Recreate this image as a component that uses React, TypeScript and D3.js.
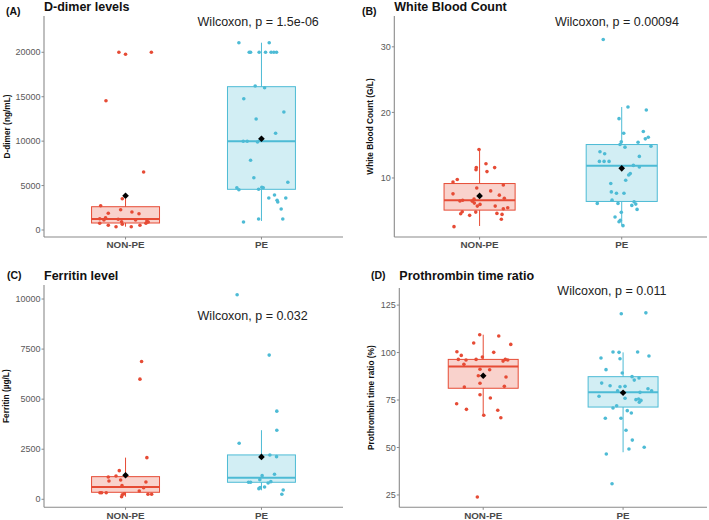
import React from "react";
import * as d3 from "d3";

const categories = ["NON-PE", "PE"];
const groupColors = ["#E64B35", "#4DBBD5"];

// [jitter (category units), value]
const dimerNonPE: [number, number][] = [[-0.049,20000],[0.0,19775],[0.19,20000],[-0.144,14550],[0.133,6528],[-0.024,3523],[-0.183,2735],[-0.036,2285],[0.047,2026],[0.099,1835],[-0.127,1880],[-0.147,1384],[-0.159,1125],[-0.19,1272],[-0.054,1204],[0.074,1125],[0.157,1013],[-0.029,934],[-0.19,754],[-0.127,529],[-0.07,371],[-0.024,641],[0.042,371],[0.106,529],[0.15,754],[0.167,900]];
const dimerPE: [number, number][] = [[-0.166,21080],[0.057,21080],[-0.09,20000],[-0.08,20000],[-0.017,20000],[0.03,20000],[0.071,20000],[0.091,20000],[0.111,20000],[-0.046,16207],[0.023,16016],[-0.13,14778],[0.165,13281],[-0.039,12493],[0.104,10883],[-0.134,9983],[-0.105,9983],[-0.029,9904],[-0.01,10096],[-0.08,7845],[-0.056,5886],[0.194,5368],[-0.181,4762],[-0.166,4536],[-0.021,4580],[0.003,4806],[0.013,4750],[0.054,3601],[0.096,3939],[0.115,3343],[0.12,3151],[0.179,3601],[0.145,2364],[-0.021,1238],[0.157,1238],[-0.132,900]];
const wbcNonPE: [number, number][] = [[-0.004,14.35],[-0.023,11.58],[-0.025,11.27],[0.045,12.18],[0.106,11.58],[0.052,10.97],[-0.157,9.76],[-0.187,9.39],[0.167,8.94],[-0.02,8.48],[0.078,8.03],[-0.187,7.58],[0.139,7.38],[-0.039,6.77],[0.174,6.92],[-0.138,6.5],[-0.119,6.6],[-0.051,6.47],[-0.037,6.17],[0.003,5.97],[-0.016,5.71],[0.11,5.71],[0.198,5.46],[0.167,5.31],[-0.027,4.8],[-0.122,4.85],[-0.133,4.55],[-0.07,4.3],[0.122,4.6],[0.158,4.45],[0.153,3.7],[-0.18,2.58]];
const wbcPE: [number, number][] = [[-0.13,31.12],[0.044,20.82],[0.173,20.36],[-0.019,19.05],[0.014,16.82],[0.152,17.08],[0.187,16.21],[0.166,15.97],[-0.003,15.52],[-0.012,15.11],[0.023,14.7],[0.115,15.45],[0.206,14.85],[-0.153,14.0],[-0.12,13.7],[-0.157,12.53],[-0.124,12.53],[-0.089,12.53],[0.124,13.29],[0.082,11.92],[0.124,11.67],[0.06,10.67],[0.049,10.45],[0.028,9.65],[-0.077,9.15],[-0.073,7.88],[-0.037,7.68],[0.016,7.68],[-0.068,6.62],[-0.172,6.12],[-0.026,6.12],[0.087,6.36],[0.099,6.02],[0.071,5.82],[0.108,5.21],[-0.003,4.76],[-0.047,4.05],[-0.01,3.54],[-0.019,3.33],[0.009,2.73]];
const ferritinNonPE: [number, number][] = [[0.118,6880],[0.106,6000],[0.157,2080],[-0.046,1430],[-0.07,1165],[-0.127,1115],[-0.122,915],[-0.036,965],[0.15,865],[-0.026,680],[0.133,580],[0.101,415],[-0.188,330],[-0.176,330],[-0.142,330],[-0.01,280],[-0.029,130],[-0.024,230],[0.165,250],[0.192,250]];
const ferritinPE: [number, number][] = [[-0.179,10215],[0.057,7200],[0.113,4400],[0.113,3450],[-0.164,2800],[0.062,2215],[0.111,2130],[0.005,1180],[0.096,1250],[-0.012,980],[0.069,880],[0.049,815],[-0.095,850],[-0.08,850],[0.023,615],[-0.019,530],[-0.01,580],[0.16,465],[0.15,250]];
const ptNonPE: [number, number][] = [[-0.025,109.4],[0.111,108.7],[-0.068,105],[0.197,104.3],[-0.188,100.4],[0.075,100.1],[-0.157,98.5],[-0.006,97.6],[-0.178,96.4],[-0.123,96.05],[-0.051,96.4],[0.142,95.5],[0.158,96.4],[0.175,96.05],[-0.138,93.8],[0.046,90.95],[-0.023,91.2],[-0.035,87.8],[0.163,87.1],[-0.023,83.8],[-0.135,81.8],[0.151,82.2],[-0.023,77.8],[0.051,76.05],[-0.19,73.05],[-0.12,70.1],[0.104,69.6],[0.004,67.0],[0.126,65.7],[-0.042,23.95]];
const ptPE: [number, number][] = [[-0.013,120.4],[0.163,120.9],[-0.072,100.3],[-0.029,100.1],[0.104,100.3],[-0.158,97.1],[-0.022,96.7],[0.185,98.2],[-0.122,91.0],[-0.006,89.2],[0.064,87.3],[0.08,85.5],[0.114,86.6],[-0.153,83.9],[-0.093,82.5],[-0.022,82.0],[0.014,82.2],[0.178,80.9],[0.204,79.9],[-0.039,79.9],[0.121,79.05],[-0.172,77.0],[0.014,75.9],[0.092,75.2],[0.111,75.5],[0.128,74.8],[0.116,73.8],[-0.046,72.0],[-0.072,70.8],[0.03,69.4],[0.059,68.2],[-0.127,65.4],[-0.015,65.4],[0.021,59.05],[0.066,53.9],[0.042,49.2],[0.151,50.1],[-0.12,46.6],[-0.079,30.9]];

// box stats: [whiskerLow, q1, median, q3, whiskerHigh, mean]
const dimerStats = [[371, 788, 1238, 2620, 3523, 3860], [1013, 4580, 9983, 16130, 21080, 10276]];
const wbcStats = [[2.68, 5.1, 6.62, 9.15, 14.35, 7.27], [2.73, 6.42, 11.87, 15.1, 20.82, 11.47]];
const ferritinStats = [[130, 350, 615, 1130, 2080, 1200], [450, 850, 1080, 2215, 3450, 2115]];
const ptStats = [[67, 81.2, 92.7, 96.4, 109.4, 87.8], [47.5, 71.3, 79.05, 87.3, 100.1, 78.8]];

const dimerTicks = [0, 5000, 10000, 15000, 20000];
const wbcTicks = [10, 20, 30];
const ferritinTicks = [0, 2500, 5000, 7500, 10000];
const ptTicks = [25, 50, 75, 100, 125];

const tags = ["(A)", "(B)", "(C)", "(D)"];
const titles = ["D-dimer levels", "White Blood Count", "Ferritin level", "Prothrombin time ratio"];
const yTitles = ["D-dimer (ng/mL)", "White Blood Count (G/L)", "Ferritin (µg/L)", "Prothrombin time ratio (%)"];
const pLabels = ["Wilcoxon, p = 1.5e-06", "Wilcoxon, p = 0.00094", "Wilcoxon, p = 0.032", "Wilcoxon, p = 0.011"];
const pLabelY = [22960, 33.1, 8965, 130.1];
const yDomains: [number, number][] = [[-788, 24085], [1.0, 34.7], [-400, 10700], [18.5, 134]];

const layout = [
  { left: 44, right: 343, top: 16, bottom: 237, tagX: 6, tagY: 14.5, titleY: 10.5, yTitleX: 9.5 },
  { left: 394.3, right: 707, top: 16, bottom: 237, tagX: 362, tagY: 14.5, titleY: 10.5, yTitleX: 373 },
  { left: 44, right: 343, top: 285, bottom: 507.3, tagX: 7, tagY: 279, titleY: 279.5, yTitleX: 9 },
  { left: 399.3, right: 707, top: 288, bottom: 507.3, tagX: 371, tagY: 279, titleY: 279.5, yTitleX: 373.5 },
];

const panels = [
  { points: [dimerNonPE, dimerPE], stats: dimerStats, ticks: dimerTicks },
  { points: [wbcNonPE, wbcPE], stats: wbcStats, ticks: wbcTicks },
  { points: [ferritinNonPE, ferritinPE], stats: ferritinStats, ticks: ferritinTicks },
  { points: [ptNonPE, ptPE], stats: ptStats, ticks: ptTicks },
];

const FONT = "'Liberation Sans', Arial, sans-serif";
const diamond = d3.symbol(d3.symbolDiamond2, 28)() as string;

function Panel({ i }: { i: number }) {
  const L = layout[i];
  const P = panels[i];
  const x = d3.scaleLinear().domain([0.4, 2.6]).range([L.left, L.right]);
  const y = d3.scaleLinear().domain(yDomains[i]).range([L.bottom, L.top]);
  const boxHalf = 0.25;
  const axisColor = "#8a8a8a";
  return (
    <g>
      <text x={L.tagX} y={L.tagY} fontSize={10.5} fontWeight="bold" fill="#111">{tags[i]}</text>
      <text x={L.left} y={L.titleY} fontSize={12.5} fontWeight="bold" fill="#111">{titles[i]}</text>
      <text
        transform={`translate(${L.yTitleX},${(L.top + L.bottom) / 2}) rotate(-90)`}
        textAnchor="middle" fontSize={8.3} fontWeight="bold" fill="#111"
      >{yTitles[i]}</text>
      {/* boxes */}
      {P.stats.map((s, g) => {
        const cx = x(g + 1);
        const c = groupColors[g];
        return (
          <g key={"b" + g}>
            <line x1={cx} x2={cx} y1={y(s[0])} y2={y(s[1])} stroke={c} strokeWidth={1} />
            <line x1={cx} x2={cx} y1={y(s[3])} y2={y(s[4])} stroke={c} strokeWidth={1} />
            <rect x={x(g + 1 - boxHalf)} width={x(g + 1 + boxHalf) - x(g + 1 - boxHalf)}
              y={y(s[3])} height={y(s[1]) - y(s[3])}
              fill={c} fillOpacity={0.25} stroke={c} strokeWidth={1} />
            <line x1={x(g + 1 - boxHalf)} x2={x(g + 1 + boxHalf)} y1={y(s[2])} y2={y(s[2])} stroke={c} strokeWidth={2} />
          </g>
        );
      })}
      {/* points */}
      {P.points.map((arr, g) =>
        arr.map((p, k) => (
          <circle key={g + "-" + k} cx={x(g + 1 + p[0])} cy={y(p[1])} r={1.8} fill={groupColors[g]} />
        ))
      )}
      {/* means */}
      {P.stats.map((s, g) => (
        <path key={"m" + g} d={diamond} transform={`translate(${x(g + 1)},${y(s[5])})`} fill="#000" />
      ))}
      {/* axes */}
      <line x1={L.left} x2={L.left} y1={L.top} y2={L.bottom} stroke={axisColor} strokeWidth={1.1} />
      <line x1={L.left} x2={L.right} y1={L.bottom} y2={L.bottom} stroke={axisColor} strokeWidth={1.1} />
      {P.ticks.map((t) => (
        <g key={"t" + t}>
          <line x1={L.left - 2.5} x2={L.left} y1={y(t)} y2={y(t)} stroke={axisColor} strokeWidth={1} />
          <text x={L.left - 3.5} y={y(t)} dy="0.35em" textAnchor="end" fontSize={9} fill="#595959">{t}</text>
        </g>
      ))}
      {categories.map((c, g) => (
        <g key={"c" + c}>
          <line x1={x(g + 1)} x2={x(g + 1)} y1={L.bottom} y2={L.bottom + 2.5} stroke={axisColor} strokeWidth={1} />
          <text x={x(g + 1)} y={L.bottom + 11.3} textAnchor="middle" fontSize={9.8} fontWeight="bold" fill="#4a4a4a">{c}</text>
        </g>
      ))}
      <text x={x(1.53)} y={y(pLabelY[i])} fontSize={12.5} fill="#222">{pLabels[i]}</text>
    </g>
  );
}

export default function App() {
  return (
    <svg width={709} height={520} style={{ position: "absolute", left: 0, top: 0, background: "#fff" }} fontFamily={FONT}>
      <rect width={709} height={520} fill="#fff" />
      {[0, 1, 2, 3].map((i) => <Panel key={i} i={i} />)}
    </svg>
  );
}
